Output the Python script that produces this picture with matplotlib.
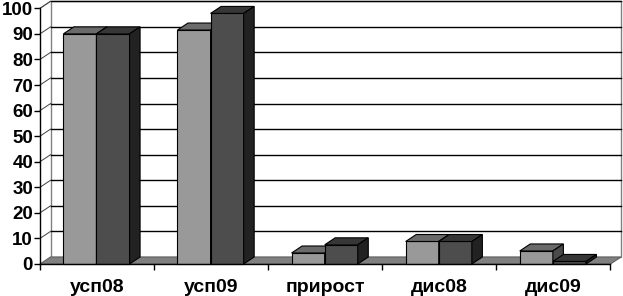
import matplotlib.pyplot as plt
from matplotlib.patches import Polygon, Rectangle

# data
categories = ["усп08", "усп09", "прирост", "дис08", "дис09"]
series1 = [90, 91.5, 4.3, 8.8, 5.1]   # light bars
series2 = [90, 98, 7.5, 8.8, 1.0]     # dark bars
yticks = list(range(0, 101, 10))

plt.rcParams['font.family'] = ['Liberation Sans', 'DejaVu Sans']

W, H = 623, 296
fig = plt.figure(figsize=(W / 100, H / 100), dpi=100)

# pixel layout of the plot box (front axis + back wall)
x0_px, x1_px = 40, 621
y0_px, y1_px = 264, 1.3
ax = fig.add_axes([x0_px / W, (H - y0_px) / H, (x1_px - x0_px) / W, (y0_px - y1_px) / H])

n = len(categories)
cat_px = (610 - x0_px) / n          # pixels per category
unit_px = (y0_px - 8.3) / 100       # pixels per value unit
dx = 10.5 / cat_px                  # depth offset in data units
dy = 7.0 / unit_px

ax.set_xlim(0, n + dx)
ax.set_ylim(0, 100 + dy)

edge = dict(edgecolor="black", linewidth=0.8, clip_on=False)

# back wall + floor
ax.add_patch(Rectangle((dx, dy), n, 100, facecolor="white", edgecolor="#808080",
                       linewidth=1, clip_on=False, zorder=1))
ax.add_patch(Polygon([(0, 0), (n, 0), (n + dx, dy), (dx, dy)], closed=True,
                     facecolor="#808080", edgecolor="#606060", linewidth=0.8,
                     clip_on=False, zorder=1))
ax.plot([0, dx], [100, 100 + dy], color="#808080", lw=0.8, clip_on=False, zorder=1)
for v in yticks[1:]:
    ax.plot([dx, n + dx], [v + dy, v + dy], color="black", lw=1, clip_on=False, zorder=2)
    ax.plot([0, dx], [v, v + dy], color="#404040", lw=0.7, clip_on=False, zorder=2)


def bar3d(x, w, h, front, top, side):
    ax.add_patch(Rectangle((x, 0), w, h, facecolor=front, zorder=3, **edge))
    ax.add_patch(Polygon([(x, h), (x + w, h), (x + w + dx, h + dy), (x + dx, h + dy)],
                         closed=True, facecolor=top, zorder=3, **edge))
    ax.add_patch(Polygon([(x + w, 0), (x + w + dx, dy), (x + w + dx, h + dy), (x + w, h)],
                         closed=True, facecolor=side, zorder=3, **edge))


bw = 0.29
for i in range(n):
    bar3d(i + 0.205, bw, series1[i], "#999999", "#6a6a6a", "#4a4a4a")
    bar3d(i + 0.205 + bw, bw, series2[i], "#4d4d4d", "#363636", "#222222")

# axes
for s in ["top", "right"]:
    ax.spines[s].set_visible(False)
ax.spines["left"].set_bounds(0, 100)
ax.spines["bottom"].set_bounds(0, n)
for s in ["left", "bottom"]:
    ax.spines[s].set_linewidth(1)
    ax.spines[s].set_zorder(5)

ax.set_yticks(yticks)
ax.set_yticklabels([str(v) for v in yticks], fontsize=13.5, fontweight="bold")
ax.tick_params(axis="y", length=4.5, width=1, pad=0.5)

ax.set_xticks(range(n + 1))
ax.set_xticklabels([])
ax.tick_params(axis="x", which="major", length=4.5, width=1, direction="out")
ax.set_xticks([i + 0.5 for i in range(n)], minor=True)
ax.set_xticklabels(categories, minor=True, fontsize=14, fontweight="bold")
ax.tick_params(axis="x", which="minor", length=0, pad=11)

ax.patch.set_visible(False)
fig.savefig("out.png", dpi=100)
